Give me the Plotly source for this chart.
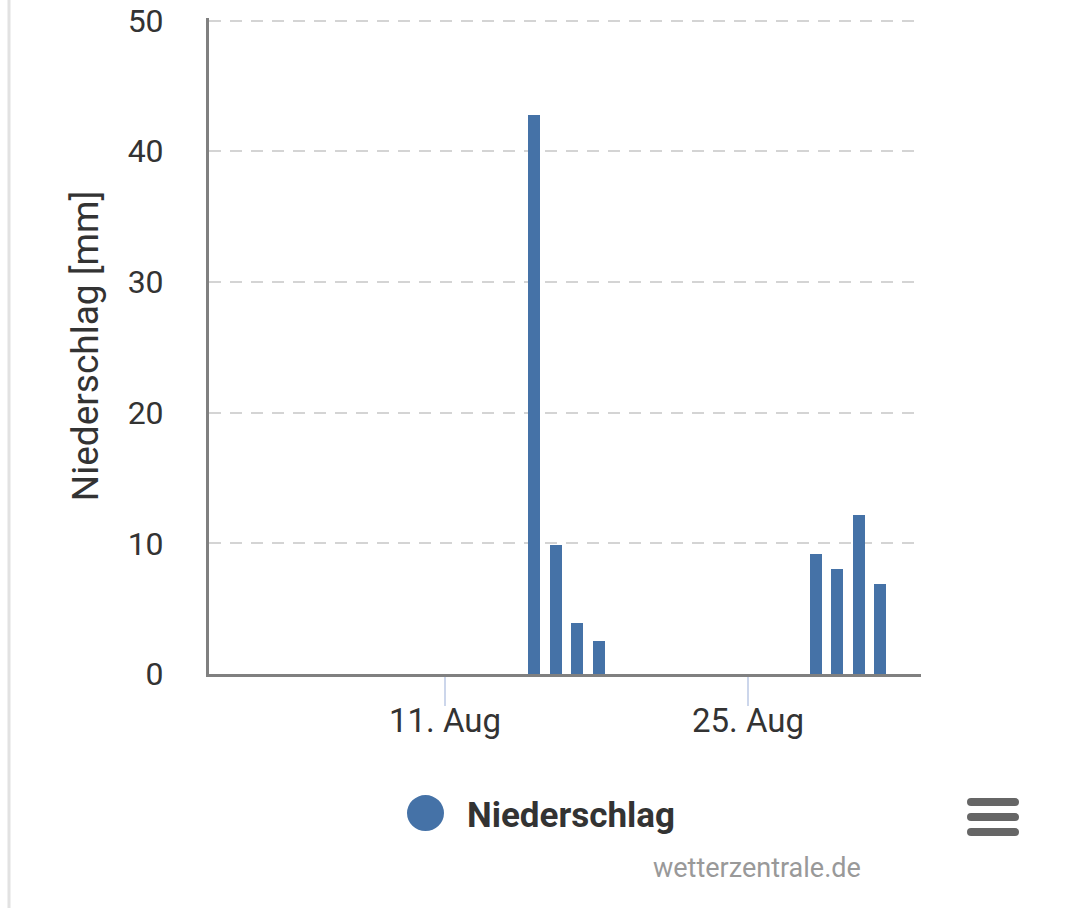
import plotly.graph_objects as go

# ---- data ----
dates = ["2024-08-15", "2024-08-16", "2024-08-17", "2024-08-18",
         "2024-08-28", "2024-08-29", "2024-08-30", "2024-08-31"]
precip_mm = [42.8, 9.9, 3.9, 2.5, 9.2, 8.0, 12.2, 6.9]
x_tick_vals = ["2024-08-11", "2024-08-25"]
x_tick_text = ["11. Aug", "25. Aug"]
y_tick_vals = [0, 10, 20, 30, 40, 50]
series_name = "Niederschlag"
y_title = "Niederschlag [mm]"
credits = "wetterzentrale.de"

# ---- geometry (page pixels; body margin removed in the page) ----
PAGE_W, PAGE_H = 1067, 908
WIDTH, HEIGHT = PAGE_W, PAGE_H
Y_MAX = 50.2                             # a hair above 50 so the 50 gridline is drawn
L, R, B = 209, 921, 674                  # plot area in page coords
PH = (B - 21) * Y_MAX / 50.0             # 50 lands on page y = 21
T = B - PH
PW = R - L
DAY = 86400000
BAR_W = 0.555 * DAY

def px(xp):
    return (xp - L) / PW

def py(yp):
    return (B - yp) / PH

BLUE = "#4572A7"
FONT = "Roboto"

fig = go.Figure()
fig.add_trace(go.Bar(
    x=dates, y=precip_mm, name=series_name,
    marker=dict(color=BLUE, line=dict(width=0)),
    width=[BAR_W] * len(dates),
    offset=-BAR_W / 2 + 0.12 * DAY,
    showlegend=False,
))

shapes = []
# left page border
shapes.append(dict(type="line", xref="paper", yref="paper",
                   x0=px(9), x1=px(9), y0=py(PAGE_H), y1=py(0),
                   line=dict(color="#e2e2e2", width=3)))
# legend circle
shapes.append(dict(type="circle", xref="paper", yref="paper",
                   x0=px(407), x1=px(444), y0=py(831), y1=py(795),
                   fillcolor=BLUE, line=dict(width=0)))
# hamburger menu icon (rounded bars)
MENU = "#666666"
for yy in (802, 817, 832):
    shapes.append(dict(type="line", xref="paper", yref="paper",
                       x0=px(971), x1=px(1015), y0=py(yy), y1=py(yy),
                       line=dict(color=MENU, width=8)))
    for cx in (971, 1015):
        shapes.append(dict(type="circle", xref="paper", yref="paper",
                           x0=px(cx - 4), x1=px(cx + 4),
                           y0=py(yy + 4), y1=py(yy - 4),
                           fillcolor=MENU, line=dict(width=0)))

annotations = [
    dict(text="<b>" + series_name + "</b>", xref="paper", yref="paper",
         x=px(465), y=py(815), xanchor="left", yanchor="middle",
         showarrow=False, font=dict(family=FONT, size=35, color="#333333")),
    dict(text=credits, xref="paper", yref="paper",
         x=px(757), y=py(868), xanchor="center", yanchor="middle",
         showarrow=False, font=dict(family=FONT, size=27, color="#999999")),
]

fig.update_layout(
    width=WIDTH, height=HEIGHT,
    margin=dict(l=L, r=PAGE_W - R, t=T, b=PAGE_H - B, pad=0, autoexpand=False),
    paper_bgcolor="white", plot_bgcolor="white",
    font=dict(family=FONT, color="#333333"),
    bargap=0,
    shapes=shapes,
    annotations=annotations,
    showlegend=False,
    xaxis=dict(
        type="date", automargin=False,
        range=["2024-07-31 02:18", "2024-09-01 23:50"],
        tickvals=x_tick_vals, ticktext=x_tick_text,
        ticks="outside", ticklen=29, tickwidth=2, tickcolor="#ccd6eb",
        ticklabelstandoff=-14,
        showline=True, linecolor="#808080", linewidth=3,
        showgrid=False, zeroline=False,
        tickfont=dict(family=FONT, size=33, color="#333333"),
    ),
    yaxis=dict(
        range=[0, Y_MAX], tickvals=y_tick_vals, automargin=False,
        showline=True, linecolor="#808080", linewidth=3,
        showgrid=True, gridcolor="#d4d4d4", gridwidth=2, griddash="12px,9px",
        zeroline=False, ticks="",
        ticklabelstandoff=36, ticklabeloverflow="allow",
        tickfont=dict(family=FONT, size=32, color="#333333"),
        title=dict(text=y_title, standoff=18,
                   font=dict(family=FONT, size=37, color="#333333")),
    ),
)

fig.write_html(
    "out.html",
    config={"displayModeBar": False},
    post_script="document.body.style.margin='0';document.body.style.overflow='hidden';",
)
